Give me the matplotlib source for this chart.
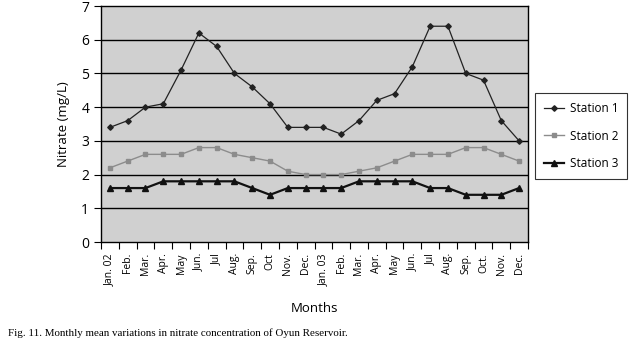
import matplotlib
matplotlib.use("Agg")
import matplotlib.pyplot as plt
import numpy as np

months = ["Jan. 02", "Feb.", "Mar.", "Apr.", "May", "Jun.", "Jul", "Aug.", "Sep.", "Oct",
          "Nov.", "Dec.", "Jan. 03", "Feb.", "Mar.", "Apr.", "May", "Jun.", "Jul", "Aug.",
          "Sep.", "Oct.", "Nov.", "Dec."]
station1 = [3.4, 3.6, 4.0, 4.1, 5.1, 6.2, 5.8, 5.0, 4.6, 4.1, 3.4, 3.4,
            3.4, 3.2, 3.6, 4.2, 4.4, 5.2, 6.4, 6.4, 5.0, 4.8, 3.6, 3.0]
station2 = [2.2, 2.4, 2.6, 2.6, 2.6, 2.8, 2.8, 2.6, 2.5, 2.4, 2.1, 2.0,
            2.0, 2.0, 2.1, 2.2, 2.4, 2.6, 2.6, 2.6, 2.8, 2.8, 2.6, 2.4]
station3 = [1.6, 1.6, 1.6, 1.8, 1.8, 1.8, 1.8, 1.8, 1.6, 1.4, 1.6, 1.6,
            1.6, 1.6, 1.8, 1.8, 1.8, 1.8, 1.6, 1.6, 1.4, 1.4, 1.4, 1.6]
yticks = [0, 1, 2, 3, 4, 5, 6, 7]

W, H = 635, 346
fig = plt.figure(figsize=(W / 100, H / 100), dpi=100)
left, right, top, bottom = 101, 528, 6, 242
ax = fig.add_axes([left / W, 1 - bottom / H, (right - left) / W, (bottom - top) / H])
ax.set_facecolor("#d0d0d0")

x = np.arange(len(months))
l1, = ax.plot(x, station1, color="#222222", lw=0.9, marker="D", ms=2.8, label="Station 1")
l2, = ax.plot(x, station2, color="#8c8c8c", lw=1.0, marker="s", ms=3.0, label="Station 2")
l3, = ax.plot(x, station3, color="#111111", lw=1.6, marker="^", ms=4.5, label="Station 3")

ax.set_xlim(-0.5, len(months) - 0.5)
ax.set_ylim(0, 7)
ax.set_yticks(yticks)
for yv in yticks[1:-1]:
    ax.axhline(yv, color="black", lw=1.0, zorder=0.5)

ax.set_xticks(np.arange(-0.5, len(months), 1.0), minor=False)
ax.set_xticklabels([])
ax.set_xticks(x, minor=True)
ax.set_xticklabels(months, minor=True, rotation=90, fontsize=7.5, family="Open Sans")
ax.tick_params(axis="x", which="major", length=5, width=0.8, direction="out")
ax.tick_params(axis="x", which="minor", length=0, pad=8)
ax.tick_params(axis="y", length=5, width=0.8, labelsize=10)
for lab in ax.get_yticklabels():
    lab.set_family("Open Sans")
for sp in ax.spines.values():
    sp.set_linewidth(1.0)

ax.set_ylabel("Nitrate (mg/L)", fontsize=9.5, family="Open Sans", labelpad=8)
fig.text(315 / W, 1 - 308 / H, "Months", ha="center", va="center", fontsize=9.5, family="Open Sans")
fig.text(8 / W, 1 - 333 / H, "Fig. 11. Monthly mean variations in nitrate concentration of Oyun Reservoir.",
         ha="left", va="center", fontsize=7.9, family="Liberation Serif")

leg = fig.legend(handles=[l1, l2, l3], loc="upper left",
                 bbox_to_anchor=(535 / W, 1 - 93 / H), bbox_transform=fig.transFigure,
                 frameon=True, fancybox=False, edgecolor="black",
                 prop={"family": "Open Sans", "size": 8.5}, handlelength=1.7,
                 labelspacing=1.25, borderpad=0.75, handletextpad=0.5, borderaxespad=0)
leg.get_frame().set_linewidth(0.8)

fig.savefig("out.png", dpi=100, facecolor="white")
